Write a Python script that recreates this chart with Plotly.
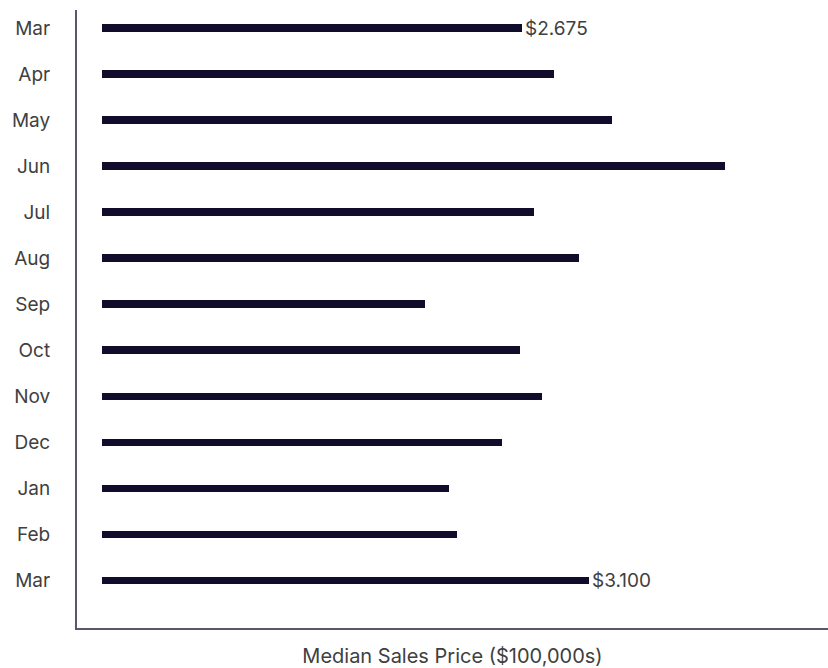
import plotly.graph_objects as go

# Monthly median sales price, in units of $100,000
months = ["Mar", "Apr", "May", "Jun", "Jul", "Aug", "Sep",
          "Oct", "Nov", "Dec", "Jan", "Feb", "Mar"]
prices = [2.675, 2.88, 3.25, 3.97, 2.75, 3.04, 2.06,
          2.66, 2.80, 2.55, 2.21, 2.26, 3.10]
labelled = {0, 12}  # first and last month carry a value label

positions = list(range(len(months)))
labels = [f"${v:.3f}" if i in labelled else "" for i, v in enumerate(prices)]

FONT = "Inter"
SIZE = 19
TEXT = "#404040"
AXIS = "#5a566e"
BAR = "#110c2b"

fig = go.Figure(
    go.Bar(
        x=prices,
        y=positions,
        orientation="h",
        width=0.155,
        marker=dict(color=BAR, line=dict(width=0)),
        text=labels,
        textposition="outside",
        textfont=dict(family=FONT, size=SIZE, color=TEXT),
        cliponaxis=False,
        hoverinfo="skip",
    )
)

fig.update_layout(
    width=828,
    height=668,
    margin=dict(l=77, r=0, t=10, b=40),
    paper_bgcolor="white",
    plot_bgcolor="white",
    showlegend=False,
    font=dict(family=FONT, size=SIZE, color=TEXT),
    bargap=0,
    uniformtext=dict(minsize=SIZE, mode="show"),
)

fig.update_xaxes(
    range=[-0.159, 4.624],
    showgrid=False,
    zeroline=False,
    showticklabels=False,
    ticks="",
    showline=True,
    linecolor=AXIS,
    linewidth=2,
    title=dict(text="Median Sales Price ($100,000s)",
               font=dict(family=FONT, size=20, color=TEXT),
               standoff=21),
)

fig.update_yaxes(
    range=[13.04, -0.39],
    tickvals=positions,
    ticktext=months,
    showgrid=False,
    zeroline=False,
    ticks="",
    ticklabelstandoff=21,
    tickfont=dict(family=FONT, size=SIZE, color=TEXT),
    showline=True,
    linecolor=AXIS,
    linewidth=2,
)

fig.write_html("out.html")
